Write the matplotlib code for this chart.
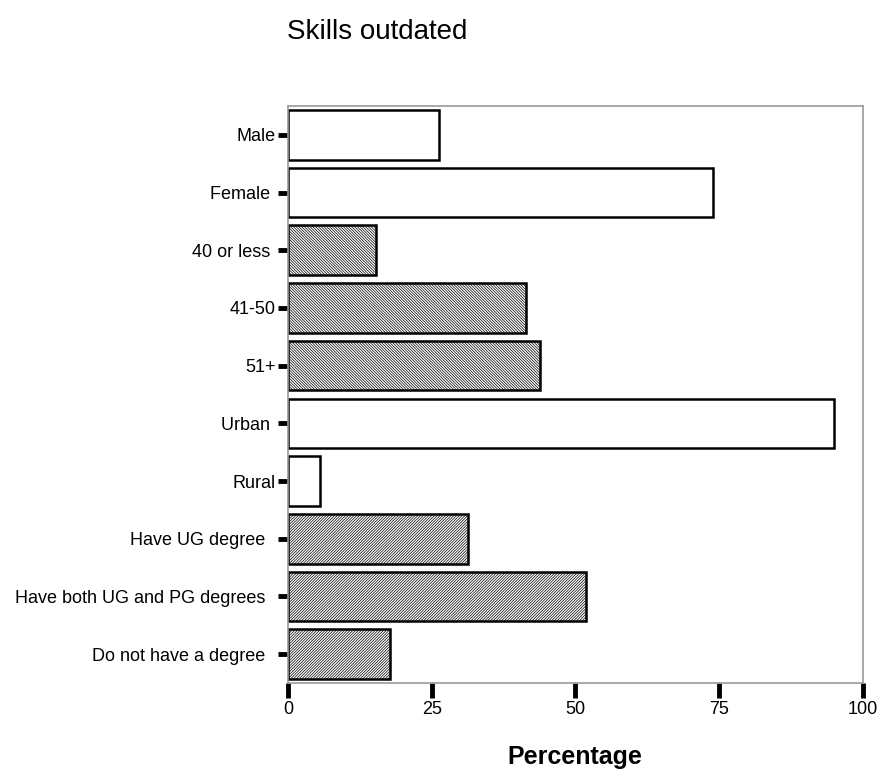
import matplotlib
matplotlib.use("Agg")
import matplotlib.pyplot as plt

plt.rcParams['font.family'] = ['Liberation Sans', 'DejaVu Sans']
plt.rcParams['hatch.linewidth'] = 0.5

# data
categories = ["Male", "Female ", "40 or less ", "41-50", "51+", "Urban ", "Rural",
              "Have UG degree  ", "Have both UG and PG degrees  ", "Do not have a degree  "]
values = [26.3, 74.0, 15.3, 41.4, 43.8, 95.0, 5.6, 31.3, 51.8, 17.7]
hatches = ["", "", "\\" * 12, "\\" * 12, "\\" * 12, "", "",
           "/" * 12, "/" * 12, "/" * 12]
xticks = [0, 25, 50, 75, 100]

fig = plt.figure(figsize=(8.85, 7.75), dpi=100)
ax = fig.add_axes([0.3254, 0.1187, 0.6497, 0.7445])

ypos = list(range(len(categories)))
for y, v, h in zip(ypos, values, hatches):
    ax.barh(y, v, height=0.86, color="white", edgecolor="black",
            linewidth=1.8, hatch=h)

ax.set_ylim(len(categories) - 0.5, -0.5)
ax.set_xlim(0, 100)
ax.set_yticks(ypos)
ax.set_yticklabels(categories, fontsize=13)
ax.set_xticks(xticks)
ax.set_xticklabels([str(t) for t in xticks], fontsize=13)
ax.tick_params(axis="y", length=7, width=3.5, pad=2)
ax.tick_params(axis="x", length=11, width=3.5, pad=2)

for s in ax.spines.values():
    s.set_color("#999999")
    s.set_linewidth(1.2)

fig.text(0.324, 1 - 32 / 775, "Skills outdated", fontsize=20, va="center", ha="left")
fig.text(0.65, 1 - 757 / 775, "Percentage", fontsize=18, fontweight="bold",
         va="center", ha="center")

fig.savefig("out.png", dpi=100)
